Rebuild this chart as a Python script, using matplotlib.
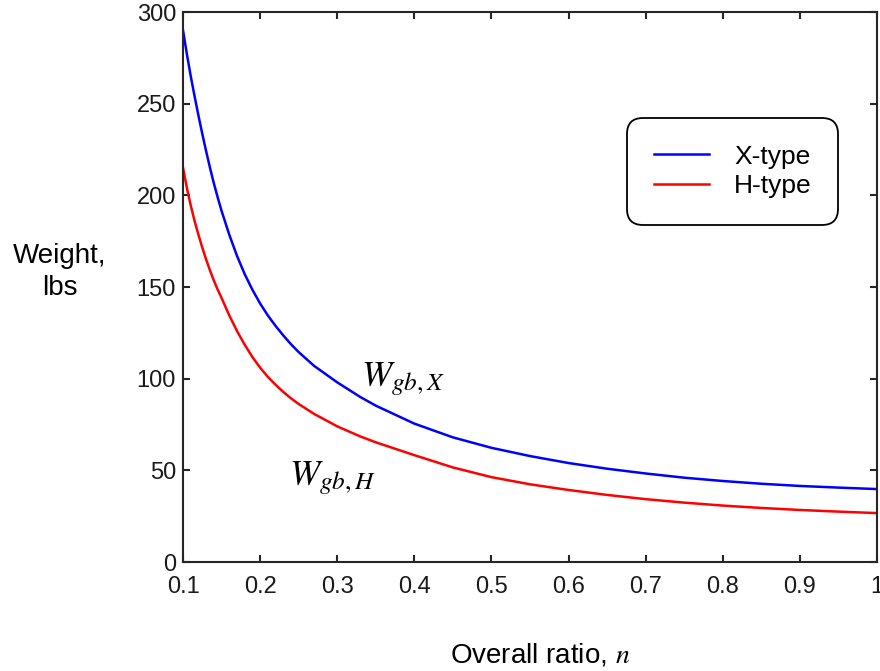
import matplotlib.pyplot as plt

# overall ratio n and gearbox weight (lbs) for the two layouts
n_vals = [0.100, 0.105, 0.110, 0.115, 0.120, 0.125, 0.130, 0.135, 0.140, 0.145,
          0.15, 0.16, 0.17, 0.18, 0.19, 0.20, 0.21, 0.22, 0.23, 0.24, 0.25,
          0.27, 0.30, 0.33, 0.35, 0.40, 0.45, 0.50, 0.55, 0.60, 0.65, 0.70,
          0.75, 0.80, 0.85, 0.90, 0.95, 1.00]
w_xtype = [290, 277, 265, 254, 243.5, 233.5, 224, 215, 206.5, 198.8,
           191.5, 178.5, 167, 157, 148.5, 141, 134.5, 128.8, 123.6, 118.8, 114.5,
           107, 98, 90, 85.3, 75.5, 68, 62.3, 57.8, 54, 50.9, 48.3,
           46.0, 44.2, 42.7, 41.5, 40.6, 39.8]
w_htype = [215, 204, 194.5, 186, 178.5, 171.5, 165, 159, 153.5, 148.5,
           144, 134.5, 126, 118.5, 111.8, 106, 101, 96.7, 92.8, 89.3, 86.2,
           80.8, 74, 68.5, 65.3, 58.3, 51.6, 46.3, 42.4, 39.3, 36.6, 34.3,
           32.4, 30.8, 29.5, 28.4, 27.5, 26.7]

plt.rcParams['font.family'] = ['Liberation Sans', 'DejaVu Sans']
plt.rcParams['mathtext.fontset'] = 'stix'

fig = plt.figure(figsize=(8.8, 6.71), dpi=100)
ax = fig.add_axes([0.208, 0.1624, 0.7886, 0.8196])

ax.plot(n_vals, w_xtype, color='#0000ff', lw=1.8, label='X-type')
ax.plot(n_vals, w_htype, color='#ff0000', lw=1.8, label='H-type')

ax.set_xlim(0.1, 1.0)
ax.set_ylim(0, 300)
ax.set_xticks([0.1, 0.2, 0.3, 0.4, 0.5, 0.6, 0.7, 0.8, 0.9, 1.0])
ax.set_xticklabels(['0.1', '0.2', '0.3', '0.4', '0.5', '0.6', '0.7', '0.8', '0.9', '1'])
ax.set_yticks([0, 50, 100, 150, 200, 250, 300])

for s in ax.spines.values():
    s.set_color('#262626')
    s.set_linewidth(1.5)
ax.tick_params(direction='in', length=5, width=1.5, color='#262626',
               top=True, right=True, labelsize=17, labelcolor='#1a1a1a')
ax.tick_params(axis='x', pad=10)
ax.tick_params(axis='y', pad=5)

ax.text(0.331, 96, r'$W_{gb,X}$', fontsize=26, color='black')
ax.text(0.238, 42, r'$W_{gb,H}$', fontsize=26, color='black')

leg = ax.legend(loc='upper left', bbox_to_anchor=(0.64, 0.807), fontsize=19,
                frameon=True, fancybox=True, handlelength=2.1,
                borderpad=1.0, labelspacing=0.22, handletextpad=0.95,
                borderaxespad=0)
frame = leg.get_frame()
frame.set_edgecolor('black')
frame.set_linewidth(1.3)
frame.set_alpha(1)
frame.set_boxstyle('round', pad=0, rounding_size=0.6)

fig.text(0.068, 0.595, 'Weight,\nlbs', fontsize=20, ha='center', va='center',
         linespacing=1.3)
fig.text(0.614, 0.012, r'Overall ratio, $n$', fontsize=20, ha='center',
         va='baseline')

fig.savefig('out.png', dpi=100)
